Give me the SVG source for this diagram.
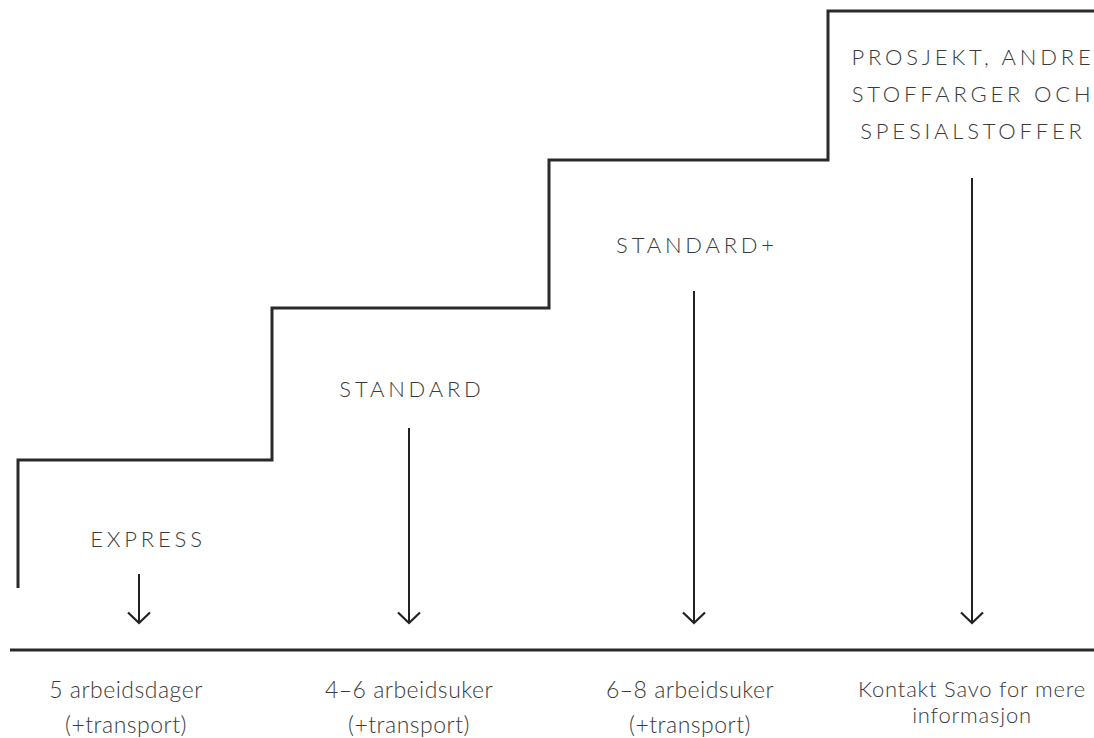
<svg xmlns="http://www.w3.org/2000/svg" width="1094" height="738" viewBox="0 0 1094 738">
<defs>
<style>
.stair{fill:none;stroke:#2a2a2a;stroke-width:3}
.base{stroke:#2a2a2a;stroke-width:3}
.arr{stroke:#222;stroke-width:2;fill:none}
.head{font-family:Lato,"Open Sans",sans-serif;font-weight:300;font-size:22px;letter-spacing:3.8px;fill:#3a3a3a;text-anchor:middle}
.sub{font-family:Lato,"Open Sans",sans-serif;font-weight:300;font-size:23px;letter-spacing:0.5px;fill:#3a3a3a;text-anchor:middle}
.sub2{font-family:Lato,"Open Sans",sans-serif;font-weight:300;font-size:22px;letter-spacing:0.8px;fill:#3a3a3a;text-anchor:middle}
</style>
<marker id="ah" viewBox="0 0 24 24" refX="12" refY="12" markerWidth="24" markerHeight="24" markerUnits="userSpaceOnUse" orient="auto">
<path d="M1.5,1 L12,12 L1.5,23" fill="none" stroke="#222" stroke-width="2.2"/>
</marker>
</defs>
<rect width="1094" height="738" fill="#fff"/>
<g id="connectors">
<path class="stair" d="M18,588 V460 H272 V308 H549 V160 H828 V11 H1094"/>
<line class="base" x1="10" y1="650" x2="1094" y2="650"/>
<line class="arr" x1="139" y1="574" x2="139" y2="623" marker-end="url(#ah)"/>
<line class="arr" x1="409" y1="428" x2="409" y2="623" marker-end="url(#ah)"/>
<line class="arr" x1="694" y1="291" x2="694" y2="623" marker-end="url(#ah)"/>
<line class="arr" x1="972" y1="178" x2="972" y2="623" marker-end="url(#ah)"/>
</g>
<g id="express">
<text class="head" x="148" y="547">EXPRESS</text>
<text class="sub" x="126" y="698">5 arbeidsdager</text>
<text class="sub" x="126" y="733">(+transport)</text>
</g>
<g id="standard">
<text class="head" x="412" y="397">STANDARD</text>
<text class="sub" x="409" y="698">4–6 arbeidsuker</text>
<text class="sub" x="409" y="733">(+transport)</text>
</g>
<g id="standardplus">
<text class="head" x="697" y="253">STANDARD+</text>
<text class="sub" x="690" y="698">6–8 arbeidsuker</text>
<text class="sub" x="690" y="733">(+transport)</text>
</g>
<g id="prosjekt">
<text class="head" x="973" y="65">PROSJEKT, ANDRE</text>
<text class="head" x="973" y="102">STOFFARGER OCH</text>
<text class="head" x="973" y="139">SPESIALSTOFFER</text>
<text class="sub2" x="972" y="697">Kontakt Savo for mere</text>
<text class="sub2" x="972" y="723">informasjon</text>
</g>
</svg>
